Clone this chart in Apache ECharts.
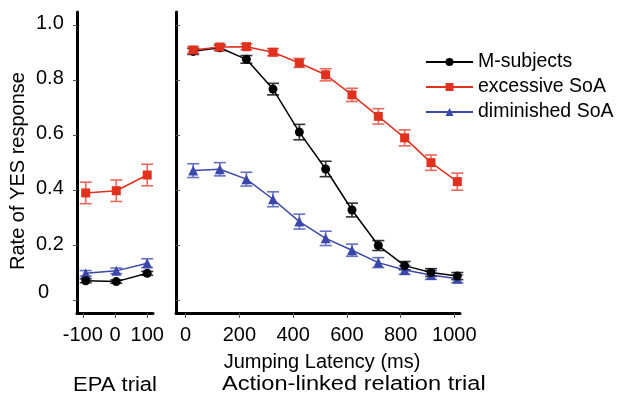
<!DOCTYPE html>
<html>
<head>
<meta charset="utf-8">
<script src="https://cdn.jsdelivr.net/npm/echarts@6/dist/echarts.min.js"></script>
<style>
  html, body { margin: 0; padding: 0; background: #fff; }
  #main { width: 620px; height: 397px; }
</style>
</head>
<body>
<div id="main"></div>
<script>
// x positions
var epaX = [-91, 4, 100];
var latencyX = [28, 127, 226, 325, 423, 521, 619, 717, 815, 913, 1011];

// EPA trial
var mEpa = [0.072, 0.069, 0.099];
var mEpaErr = [0.007, 0.006, 0.007];
var excEpa = [0.391, 0.399, 0.456];
var excEpaErr = [0.039, 0.039, 0.039];
var dimEpa = [0.099, 0.108, 0.136];
var dimEpaErr = [0.010, 0.010, 0.016];

// action-linked relation trial
var mLat = [0.905, 0.918, 0.876, 0.768, 0.612, 0.478, 0.329, 0.200, 0.127, 0.102, 0.089];
var mLatErr = [0.011, 0.010, 0.014, 0.021, 0.028, 0.028, 0.025, 0.018, 0.015, 0.014, 0.013];
var excLat = [0.910, 0.921, 0.922, 0.902, 0.863, 0.820, 0.747, 0.669, 0.591, 0.501, 0.432];
var excLatErr = [0.012, 0.011, 0.011, 0.013, 0.016, 0.022, 0.024, 0.028, 0.029, 0.028, 0.031];
var dimLat = [0.472, 0.477, 0.441, 0.368, 0.287, 0.226, 0.183, 0.138, 0.111, 0.093, 0.079];
var dimLatErr = [0.025, 0.024, 0.025, 0.027, 0.027, 0.026, 0.022, 0.018, 0.016, 0.016, 0.014];

var yTicks = [0, 0.2, 0.4, 0.6, 0.8, 1.0];
var epaTicks = [-100, 0, 100];
var latTicks = [0, 200, 400, 600, 800, 1000];

var names = ['M-subjects', 'excessive SoA', 'diminished SoA'];
var colors = ['#000000', '#e0301e', '#3b48aa'];
var errColors = ['#333333', '#e8685c', '#6670c0'];
var symbols = ['circle', 'rect', 'triangle'];
var symSizes = [9, 9, 10];

var FONT = 'Liberation Sans, Arial, sans-serif';

var myChart = echarts.init(document.getElementById('main'));

function pairs(xs, ys) {
    return xs.map(function (x, i) { return [x, ys[i]]; });
}
function triples(xs, ys, es) {
    return xs.map(function (x, i) { return [x, ys[i], es[i]]; });
}

function errSeries(k, grid, xs, ys, es) {
    return {
        type: 'custom',
        xAxisIndex: grid,
        yAxisIndex: grid,
        z: 1,
        silent: true,
        data: triples(xs, ys, es),
        renderItem: function (params, api) {
            var x = api.value(0), y = api.value(1), e = api.value(2);
            var lo = api.coord([x, y - e]);
            var hi = api.coord([x, y + e]);
            var w = 6;
            var st = { stroke: errColors[k], lineWidth: 1.6 };
            return {
                type: 'group',
                children: [
                    { type: 'line', shape: { x1: lo[0], y1: lo[1], x2: hi[0], y2: hi[1] }, style: st },
                    { type: 'line', shape: { x1: lo[0] - w, y1: lo[1], x2: lo[0] + w, y2: lo[1] }, style: st },
                    { type: 'line', shape: { x1: hi[0] - w, y1: hi[1], x2: hi[0] + w, y2: hi[1] }, style: st }
                ]
            };
        }
    };
}

function lineSeries(k, grid, xs, ys) {
    return {
        name: names[k],
        type: 'line',
        xAxisIndex: grid,
        yAxisIndex: grid,
        z: 3 + (k === 1 ? 1 : 0),
        data: pairs(xs, ys),
        symbol: symbols[k],
        symbolSize: symSizes[k],
        showSymbol: true,
        lineStyle: { color: colors[k], width: 1.5 },
        itemStyle: { color: colors[k] },
        emphasis: { disabled: true }
    };
}

function yAxis(grid, showLabels) {
    return {
        type: 'value',
        gridIndex: grid,
        min: -0.045,
        max: 1.048,
        axisLine: { show: true, onZero: false, lineStyle: { color: '#000', width: 3 } },
        axisTick: { show: true, inside: grid === 1, length: 4, customValues: yTicks, lineStyle: { color: '#555', width: 1 } },
        axisLabel: {
            show: showLabels,
            customValues: yTicks,
            margin: 41,
            align: 'left',
            padding: [0, 0, 3, 0],
            color: '#000',
            fontSize: 20,
            fontFamily: FONT,
            formatter: function (v) { return v === 0 ? '{z|0}' : v.toFixed(1); },
            rich: { z: { fontSize: 20, fontFamily: FONT, color: '#000', padding: [0, 0, 14, 2] } }
        },
        splitLine: { show: false }
    };
}

function xAxis(grid, min, max, ticks) {
    return {
        type: 'value',
        gridIndex: grid,
        min: min,
        max: max,
        axisLine: { show: true, onZero: false, lineStyle: { color: '#000', width: 3 } },
        axisTick: { show: true, inside: false, length: 5, customValues: ticks, lineStyle: { color: '#555', width: 1 } },
        axisLabel: {
            customValues: ticks,
            margin: 12,
            color: '#000',
            fontSize: 20,
            fontFamily: FONT,
            formatter: function (v) { return String(v); }
        },
        splitLine: { show: false }
    };
}

var series = [];
var epaY = [mEpa, excEpa, dimEpa];
var epaE = [mEpaErr, excEpaErr, dimEpaErr];
var latY = [mLat, excLat, dimLat];
var latE = [mLatErr, excLatErr, dimLatErr];
for (var k = 0; k < 3; k++) {
    series.push(errSeries(k, 0, epaX, epaY[k], epaE[k]));
    series.push(errSeries(k, 1, latencyX, latY[k], latE[k]));
}
for (var k2 = 2; k2 >= 0; k2--) {
    series.push(lineSeries(k2, 0, epaX, epaY[k2]));
    series.push(lineSeries(k2, 1, latencyX, latY[k2]));
}

var option = {
    backgroundColor: '#fff',
    animation: false,
    grid: [
        { left: 77, width: 76, top: 12, bottom: 84 },
        { left: 176, width: 284, top: 12, bottom: 84 }
    ],
    xAxis: [
        xAxis(0, -118, 118, epaTicks),
        xAxis(1, -36, 1021, latTicks)
    ],
    yAxis: [yAxis(0, true), yAxis(1, false)],
    legend: {
        data: names,
        orient: 'vertical',
        left: 420,
        top: 47,
        itemWidth: 47,
        itemHeight: 10,
        itemGap: 5,
        selectedMode: false,
        textStyle: { fontSize: 19.5, fontFamily: FONT, color: '#000', lineHeight: 20 }
    },
    graphic: [
        {
            type: 'text', x: 18, y: 171, rotation: Math.PI / 2,
            style: { text: 'Rate of YES response', fontSize: 20, fontFamily: FONT, fill: '#000', align: 'center', verticalAlign: 'middle' }
        },
        {
            type: 'text', x: 322, y: 362,
            style: { text: 'Jumping Latency (ms)', fontSize: 20, fontFamily: FONT, fill: '#000', align: 'center', verticalAlign: 'middle' }
        },
        {
            type: 'text', x: 222, y: 384, scaleX: 1.18,
            style: { text: 'Action-linked relation trial', fontSize: 20, fontFamily: FONT, fill: '#000', align: 'left', verticalAlign: 'middle' }
        },
        {
            type: 'text', x: 115, y: 385, scaleX: 1.1,
            style: { text: 'EPA trial', fontSize: 20, fontFamily: FONT, fill: '#000', align: 'center', verticalAlign: 'middle' }
        }
    ],
    series: series
};

myChart.setOption(option);
</script>
</body>
</html>
